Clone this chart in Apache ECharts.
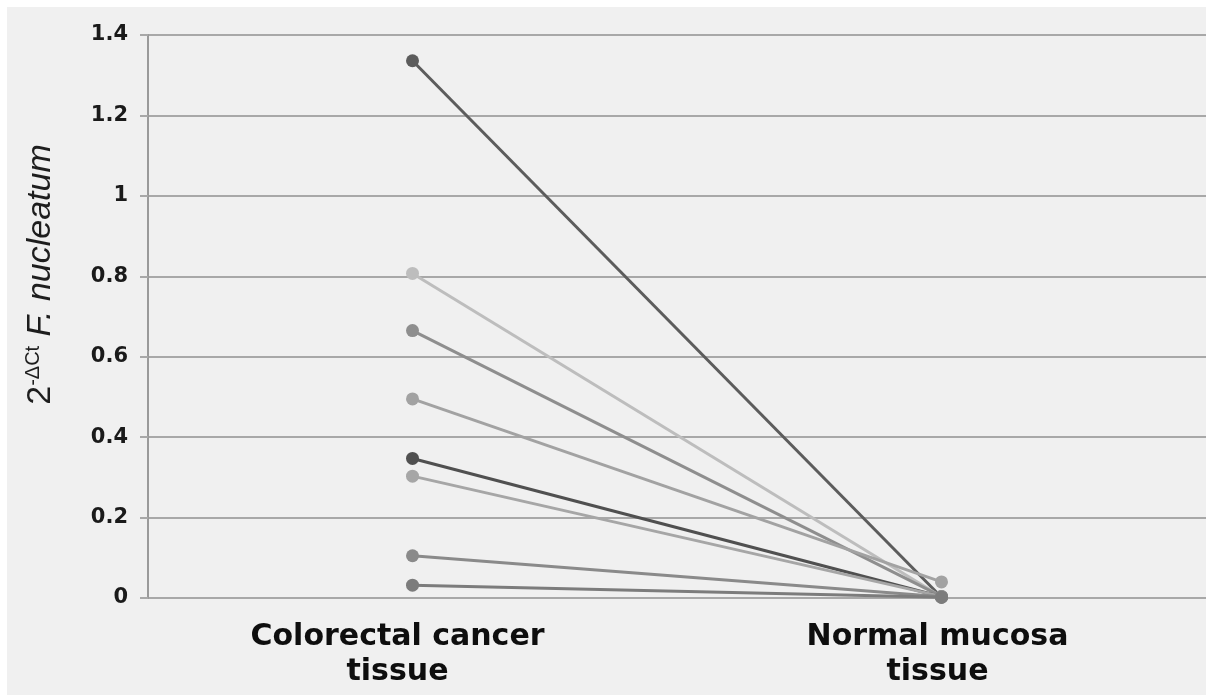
<!DOCTYPE html>
<html>
<head>
<meta charset="utf-8">
<script src="https://cdn.jsdelivr.net/npm/echarts@6/dist/echarts.min.js"></script>
<style>
  html, body { margin: 0; padding: 0; background: #ffffff; }
  #chart { position: absolute; left: 7px; top: 7px; width: 1199px; height: 688px; background: #f0f0f0; }
</style>
</head>
<body>
<div id="chart"></div>
<script>
// Paired samples: tumour tissue vs. matched normal mucosa
const categories = ['Colorectal cancer\ntissue', 'Normal mucosa\ntissue'];
const cancerValues = [1.336, 0.807, 0.665, 0.495, 0.347, 0.303, 0.105, 0.032];
const normalValues = [0.002, 0.003, 0.004, 0.040, 0.003, 0.004, 0.003, 0.002];
const pairColors = ['#5c5c5c', '#bdbdbd', '#8e8e8e', '#a2a2a2', '#505050', '#a6a6a6', '#8a8a8a', '#7c7c7c'];
const yTicks = { min: 0, max: 1.4, interval: 0.2 };

const series = cancerValues.map((v, i) => ({
  type: 'line',
  data: [v, normalValues[i]],
  symbol: 'circle',
  symbolSize: 13,
  lineStyle: { width: 3, color: pairColors[i] },
  itemStyle: { color: pairColors[i] },
  emphasis: { disabled: true },
  z: 3
}));

const chart = echarts.init(document.getElementById('chart'));
chart.setOption({
  animation: false,
  grid: { left: 141, right: 0, top: 28, bottom: 97, containLabel: false },
  xAxis: {
    type: 'category',
    data: categories,
    boundaryGap: true,
    axisLine: { show: false },
    axisTick: { show: false },
    axisLabel: {
      margin: 22,
      interval: 0,
      formatter: (val, idx) => val.split('\n').map(s => '{c' + idx + '|' + s + '}').join('\n'),
      rich: {
        c0: { fontFamily: 'DejaVu Sans', fontWeight: 'bold', fontSize: 30, lineHeight: 35, color: '#0e0e0e', padding: [0, 30, 0, 0] },
        c1: { fontFamily: 'DejaVu Sans', fontWeight: 'bold', fontSize: 30, lineHeight: 35, color: '#0e0e0e', padding: [0, 8, 0, 0] }
      }
    }
  },
  yAxis: {
    type: 'value',
    min: yTicks.min,
    max: yTicks.max,
    interval: yTicks.interval,
    name: '{n|2}{s|-ΔCt}{i| F. nucleatum}',
    nameLocation: 'middle',
    nameGap: 90,
    nameRotate: 90,
    nameTextStyle: {
      padding: [0, 0, 0, 84],
      rich: {
        n: { fontFamily: 'Liberation Sans', fontSize: 34, color: '#1e1e1e', verticalAlign: 'bottom' },
        s: { fontFamily: 'Liberation Sans', fontSize: 20, color: '#1e1e1e', verticalAlign: 'top', padding: [0, 0, 15, 0] },
        i: { fontFamily: 'Liberation Sans', fontStyle: 'italic', fontSize: 34, color: '#1e1e1e', verticalAlign: 'bottom' }
      }
    },
    axisLine: { show: true, lineStyle: { color: '#9a9a9a', width: 2 } },
    axisTick: { show: true, length: 8, lineStyle: { color: '#a8a8a8', width: 2 } },
    axisLabel: {
      margin: 20,
      fontFamily: 'DejaVu Sans',
      fontWeight: 'bold',
      fontSize: 21,
      color: '#1a1a1a',
      formatter: v => String(Math.round(v * 10) / 10)
    },
    splitLine: { show: true, lineStyle: { color: '#a8a8a8', width: 2 } }
  },
  series: series
});
</script>
</body>
</html>
